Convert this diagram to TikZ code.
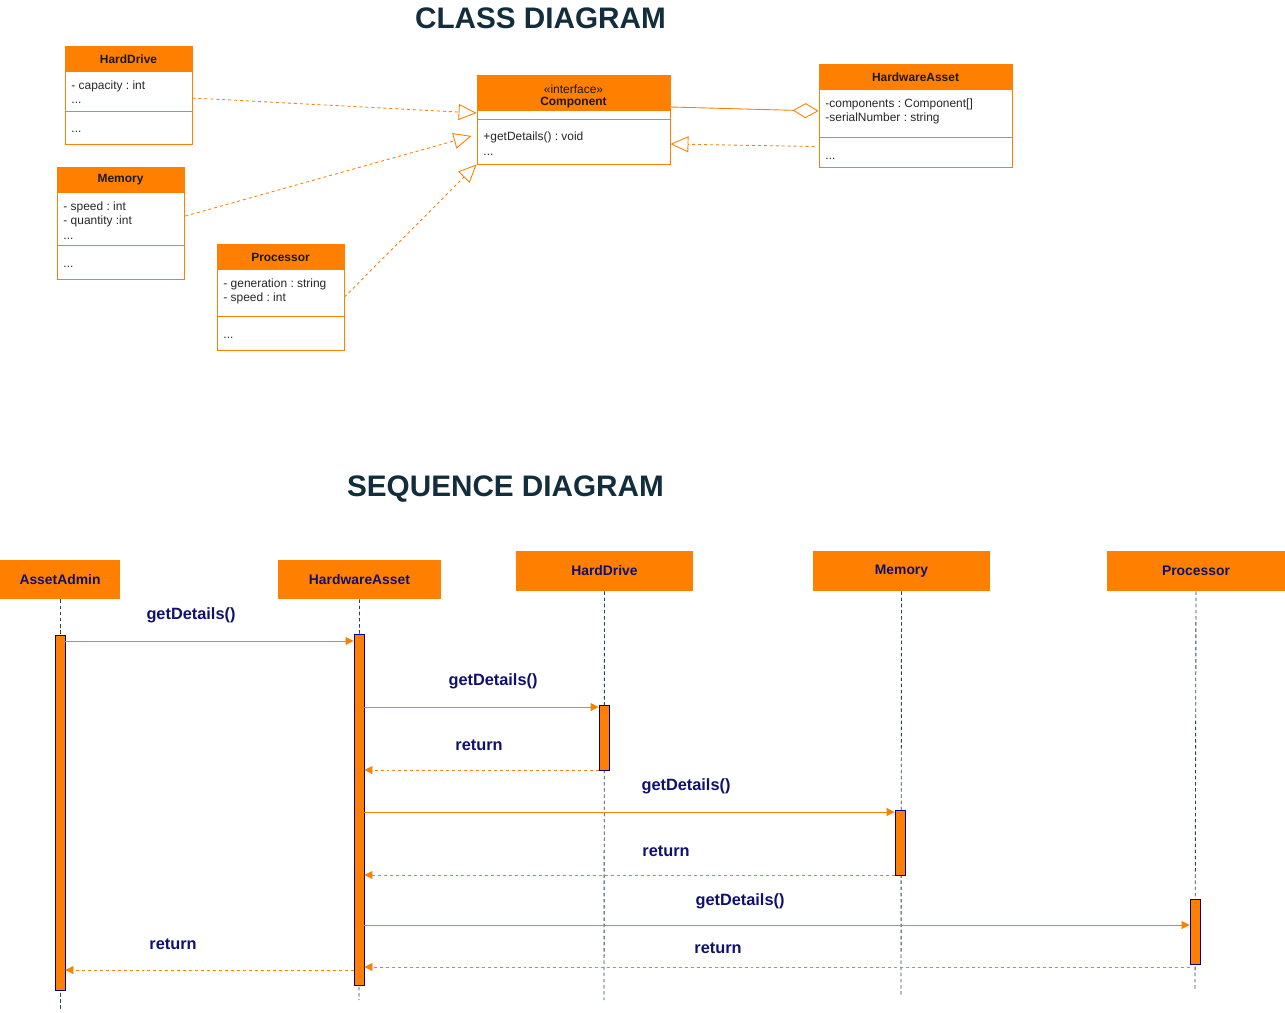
\documentclass[tikz,border=0pt]{standalone}
\usepackage{fontspec}
\setmainfont{Liberation Sans}
\usetikzlibrary{arrows.meta}
\definecolor{boxorange}{RGB}{255, 128, 0}
\definecolor{titleteal}{RGB}{18, 46, 60}
\definecolor{labelnavy}{RGB}{16, 16, 110}
\definecolor{lifeslate}{RGB}{46, 66, 80}
\definecolor{actnavy}{RGB}{0, 0, 140}
\def\fsmall{\fontsize{6.8pt}{8pt}\selectfont}
\def\fhead{\fontsize{7.9pt}{9pt}\selectfont\bfseries}
\def\fmsg{\fontsize{9.3pt}{11pt}\selectfont\bfseries}
\def\ftitle{\fontsize{16.9pt}{20pt}\selectfont\bfseries}
\frenchspacing

\begin{document}
\begin{tikzpicture}[x=0.02cm, y=-0.02cm, line width=0.5pt,
    classbox/.style={draw=boxorange, fill=white, inner sep=0pt},
    classname/.style={font=\fsmall\bfseries, text=black!90},
    member/.style={font=\fsmall, text=black!85, anchor=west, inner sep=0pt, text height=5pt, text depth=1.2pt},
    realize/.style={draw=boxorange, dash pattern=on 1.7pt off 1.7pt, -{Triangle[open, length=0.36cm, width=0.32cm]}},
    aggregate/.style={draw=boxorange, -{Diamond[open, length=0.52cm, width=0.3cm]}},
    seqhead/.style={fill=boxorange, font=\fhead, text=labelnavy, inner sep=0pt},
    life/.style={draw=lifeslate, dash pattern=on 2pt off 1.5pt, line width=0.5pt},
    act/.style={fill=boxorange, draw=actnavy, minimum width=0.2cm, inner sep=0pt},
    call/.style={draw=boxorange, -{Triangle[length=0.16cm, width=0.16cm]}},
    reply/.style={call, dash pattern=on 1.7pt off 1.7pt},
    msg/.style={font=\fmsg, text=labelnavy}]

    \useasboundingbox (0, 0) rectangle (1285, 1012);

    \node[font=\ftitle, text=titleteal] (ctitle) at (540.5, 18) {CLASS DIAGRAM};
    \node[font=\ftitle, text=titleteal] (stitle) at (505.5, 489) {SEQUENCE DIAGRAM};

    \node[classbox, minimum width=2.54cm, minimum height=1.96cm] (hd) at (128.5, 95) {};
    \fill[boxorange] (hd.north west) rectangle ++(127, 26);
    \draw[boxorange] (hd.west |- 0,111) -- (hd.east |- 0,111);
    \node[classname] (hdname) at (128.5, 59) {HardDrive};
    \node[member] (hdcap) at (71, 86) {- capacity : int};
    \node[member] (hddots) at (71, 100) {...};
    \node[member] (hdops) at (71, 129) {...};

    \node[classbox, minimum width=2.54cm, minimum height=2.24cm] (mem) at (120.5, 223) {};
    \fill[boxorange] (mem.north west) rectangle ++(127, 26);
    \draw[boxorange] (mem.west |- 0,245) -- (mem.east |- 0,245);
    \node[classname] (memname) at (120.5, 180) {Memory};
    \node[member] (memspeed) at (63, 207) {- speed : int};
    \node[member] (memqty) at (63, 221) {- quantity :int};
    \node[member] (memdots) at (63, 236) {...};
    \node[member] (memops) at (63, 264) {...};

    \node[classbox, minimum width=2.54cm, minimum height=2.12cm] (pr) at (280.5, 297) {};
    \fill[boxorange] (pr.north west) rectangle ++(127, 26);
    \draw[boxorange] (pr.west |- 0,316) -- (pr.east |- 0,316);
    \node[classname] (prname) at (280.5, 257) {Processor};
    \node[member] (prgen) at (223, 284) {- generation : string};
    \node[member] (prspeed) at (223, 298) {- speed : int};
    \node[member] (props) at (223, 335) {...};

    \node[classbox, minimum width=3.86cm, minimum height=1.78cm] (cmp) at (573.5, 119.5) {};
    \fill[boxorange] (cmp.north west) rectangle ++(193, 36);
    \draw[boxorange] (cmp.west |- 0,119) -- (cmp.east |- 0,119);
    \node[font=\fsmall, text=black!90] (cmpster) at (573.5, 89) {«interface»};
    \node[classname] (cmpname) at (573.5, 103) {Component};
    \node[member] (cmpget) at (483, 137) {+getDetails() : void};
    \node[member] (cmpdots) at (483, 152) {...};

    \node[classbox, minimum width=3.86cm, minimum height=2.06cm] (ha) at (915.5, 115.5) {};
    \fill[boxorange] (ha.north west) rectangle ++(193, 26);
    \draw[boxorange] (ha.west |- 0,137) -- (ha.east |- 0,137);
    \node[classname] (haname) at (915.5, 77) {HardwareAsset};
    \node[member] (hacomp) at (825, 104) {-components : Component[]};
    \node[member] (haserial) at (825, 118) {-serialNumber : string};
    \node[member] (haops) at (825, 156) {...};

    \draw[realize] ([shift={(0, 3)}]hd.east) -- ([shift={(0, -6.5)}]cmp.west);
    \draw[realize] ([shift={(1, -7)}]mem.east) -- ([shift={(-5, 16.5)}]cmp.west);
    \draw[realize] (pr.east) -- (cmp.south west);
    \draw[realize] ([shift={(-4, 31)}]ha.west) -- ([shift={(0, 24.5)}]cmp.east);
    \draw[aggregate] ([shift={(0, -12.5)}]cmp.east) -- ([shift={(0, -4.5)}]ha.west);

    \node[seqhead, minimum width=2.4cm, minimum height=0.78cm] (aah) at (60, 579.5) {AssetAdmin};
    \node[seqhead, minimum width=3.26cm, minimum height=0.78cm] (hah) at (359.5, 579.5) {HardwareAsset};
    \node[seqhead, minimum width=3.54cm, minimum height=0.8cm] (hdh) at (604.5, 571) {HardDrive};
    \node[seqhead, minimum width=3.54cm, minimum height=0.8cm] (memh) at (901.5, 571) {Memory};
    \node[seqhead, minimum width=3.56cm, minimum height=0.8cm] (prh) at (1196, 571) {Processor};

    \coordinate (aaend) at (60, 1010);
    \coordinate (haend) at (359, 1000);
    \coordinate (hdend) at (604, 1000);
    \coordinate (memend) at (901, 995);
    \coordinate (prend) at (1195, 990);
    \draw[life] (aah.south) -- (aaend);
    \draw[life] (hah.south) -- (haend);
    \draw[life] (hdh.south) -- (hdend);
    \draw[life] (memh.south) -- (memend);
    \draw[life] (prh.south) -- (prend);

    \node[act, minimum height=7.1cm] (a1) at (60, 812.5) {};
    \node[act, minimum height=7.02cm] (a2) at (359, 809.5) {};
    \node[act, minimum height=1.3cm] (a3) at (604, 737.5) {};
    \node[act, minimum height=1.3cm] (a4) at (900, 842.5) {};
    \node[act, minimum height=1.3cm] (a5) at (1195, 931.5) {};

    \coordinate (lv1) at (0, 641);
    \coordinate (lv2) at (0, 707);
    \coordinate (lv3) at (0, 770);
    \coordinate (lv4) at (0, 812);
    \coordinate (lv5) at (0, 875);
    \coordinate (lv6) at (0, 925);
    \coordinate (lv7) at (0, 967);
    \coordinate (lv8) at (0, 970);

    \draw[call] (a1.east |- lv1) -- (a2.west |- lv1);
    \draw[call] (a2.east |- lv2) -- (a3.west |- lv2);
    \draw[reply] (a3.west |- lv3) -- (a2.east |- lv3);
    \draw[call] (a2.east |- lv4) -- (a4.west |- lv4);
    \draw[reply] (a4.west |- lv5) -- (a2.east |- lv5);
    \draw[call] (a2.east |- lv6) -- (a5.west |- lv6);
    \draw[reply] (a5.west |- lv7) -- (a2.east |- lv7);
    \draw[reply] (a2.west |- lv8) -- (a1.east |- lv8);

    \node[msg] (m1) at (191, 615) {getDetails()};
    \node[msg] (m2) at (493, 681) {getDetails()};
    \node[msg] (m3) at (479, 745) {return};
    \node[msg] (m4) at (686, 786) {getDetails()};
    \node[msg] (m5) at (666, 851) {return};
    \node[msg] (m6) at (740, 901) {getDetails()};
    \node[msg] (m7) at (718, 948) {return};
    \node[msg] (m8) at (173, 944) {return};

\end{tikzpicture}
\end{document}
